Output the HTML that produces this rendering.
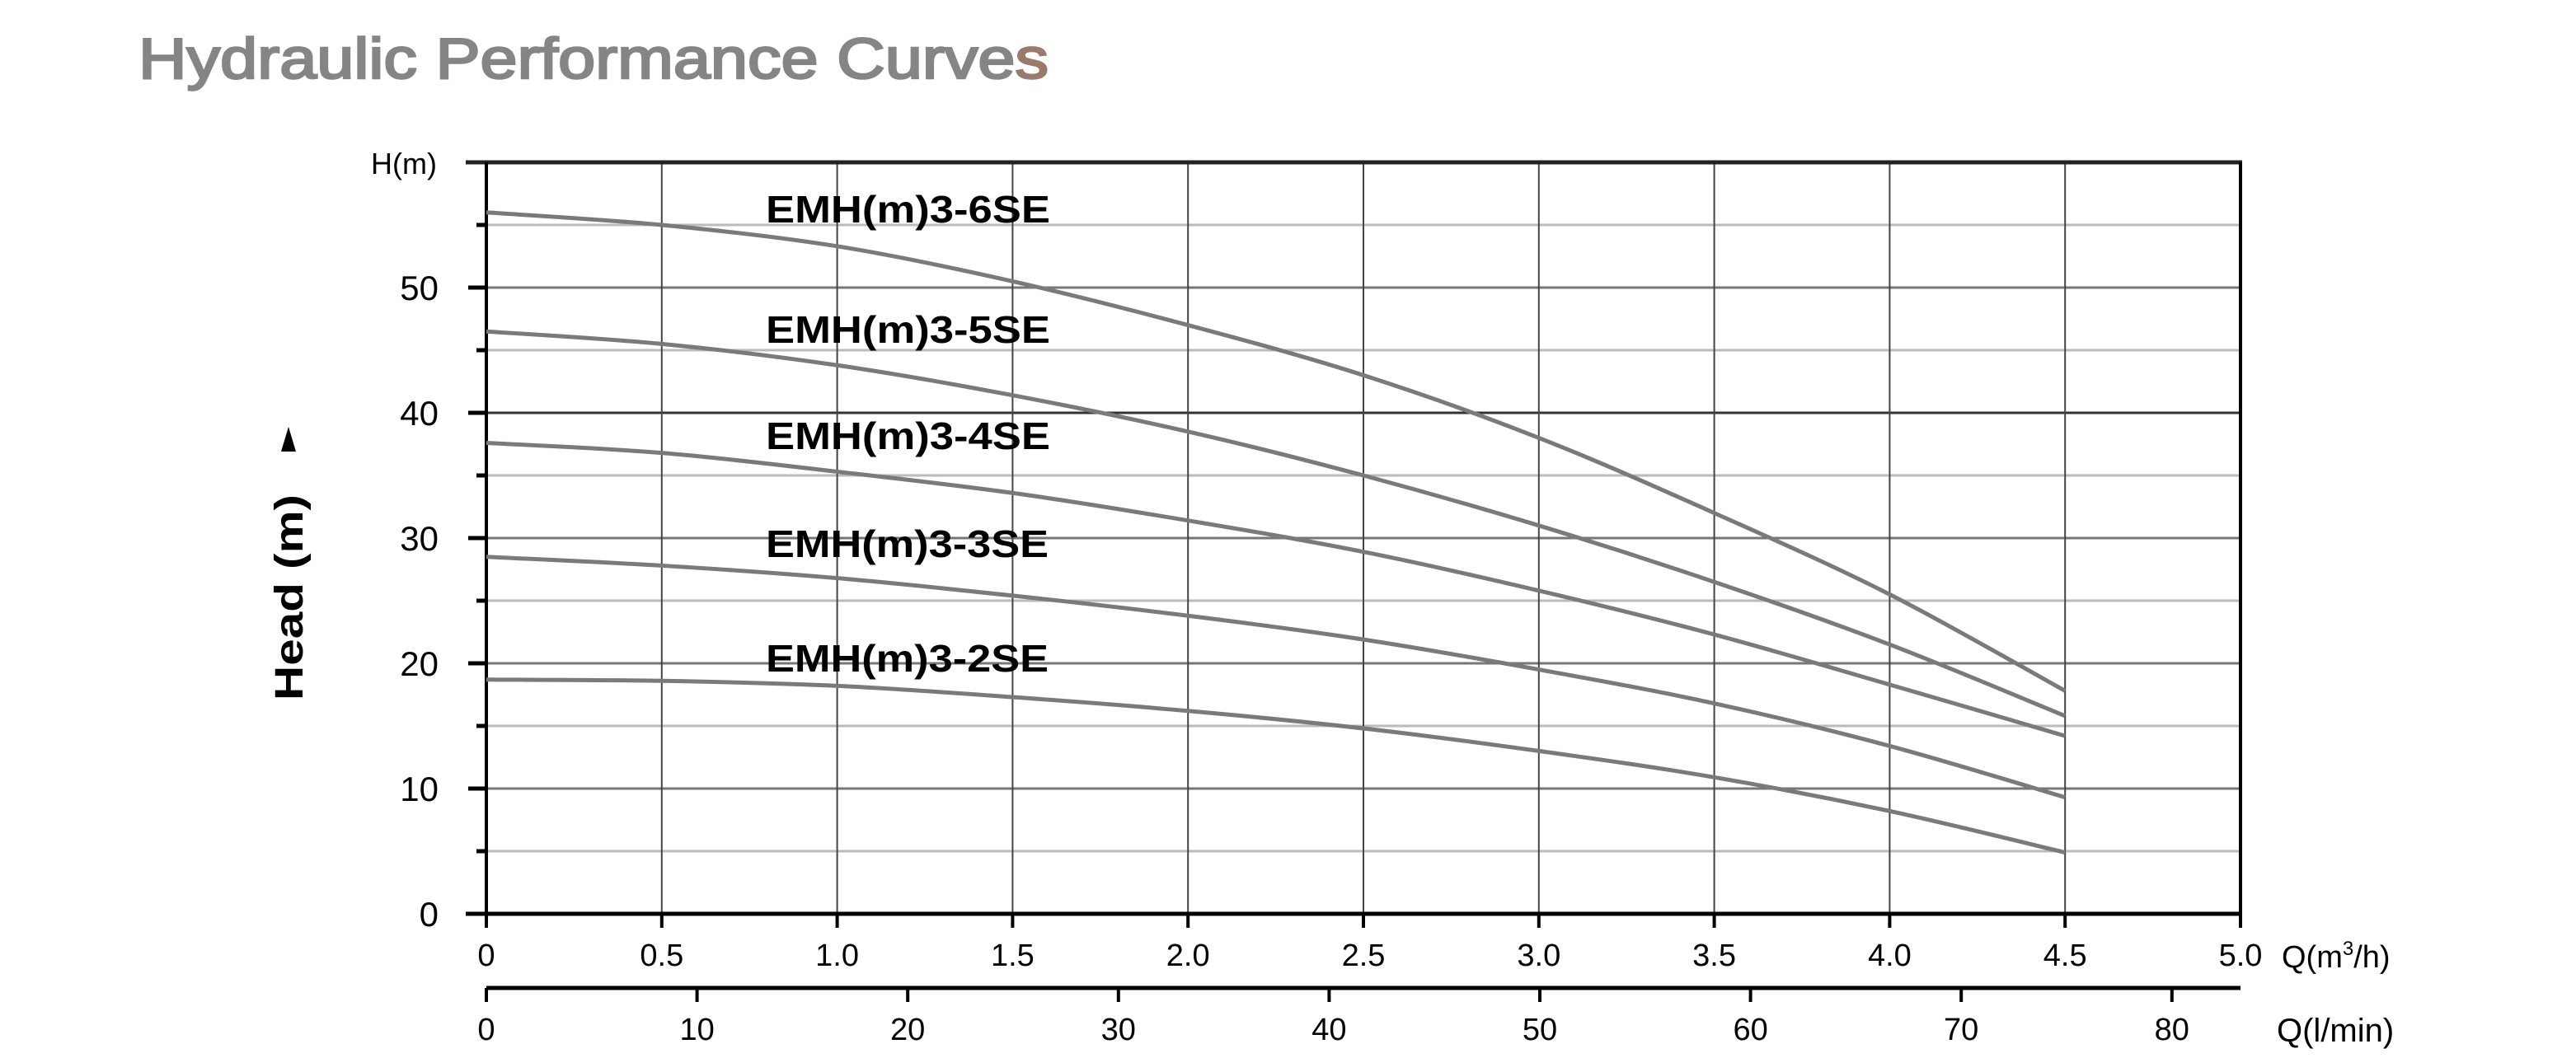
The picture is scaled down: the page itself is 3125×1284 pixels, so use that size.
<!DOCTYPE html>
<html><head><meta charset="utf-8"><style>
html,body{margin:0;padding:0;background:#fff;}
svg{display:block;}
</style></head><body>
<svg id="s" width="3125" height="1284" viewBox="0 0 3125 1284" xmlns="http://www.w3.org/2000/svg" font-family="Liberation Sans, sans-serif">
<rect width="3125" height="1284" fill="#fff"/>
<text x="168" y="95" font-size="70" fill="#858585" stroke="#858585" stroke-width="2.5" textLength="1104" lengthAdjust="spacingAndGlyphs">Hydraulic Performance Curve<tspan fill="#9a7a6a" stroke="#9a7a6a">s</tspan></text>
<g id="grid"></g>
<g id="curves" fill="none" stroke="#7a7a7a" stroke-width="5"></g>
<g font-size="46" font-weight="bold" fill="#000">
<text x="929" y="270" textLength="345" lengthAdjust="spacingAndGlyphs">EMH(m)3-6SE</text>
<text x="929" y="416" textLength="345" lengthAdjust="spacingAndGlyphs">EMH(m)3-5SE</text>
<text x="929" y="545" textLength="345" lengthAdjust="spacingAndGlyphs">EMH(m)3-4SE</text>
<text x="929" y="676" textLength="343" lengthAdjust="spacingAndGlyphs">EMH(m)3-3SE</text>
<text x="929" y="815" textLength="343" lengthAdjust="spacingAndGlyphs">EMH(m)3-2SE</text>
</g>
<text x="0" y="0" font-size="48" font-weight="bold" fill="#000" transform="translate(367,850) rotate(-90)" textLength="250" lengthAdjust="spacingAndGlyphs">Head (m)</text>
<polygon points="350,518 341,548 359,548" fill="#000"/>
<text x="530" y="211" font-size="36" text-anchor="end" fill="#000">H(m)</text>
<text x="2768" y="1174" font-size="38" fill="#000">Q(m<tspan font-size="24" dy="-15">3</tspan><tspan dy="15">/h)</tspan></text>
<text x="2762" y="1264" font-size="40" fill="#000">Q(l/min)</text>
</svg>
<script>
var NS="http://www.w3.org/2000/svg";
var g=document.getElementById('grid');
function el(t,a,p){var e=document.createElementNS(NS,t);for(var k in a)e.setAttribute(k,a[k]);(p||g).appendChild(e);return e;}
var X0=590,XS=425.6,Y0=1109,YS=15.2;
function X(q){return X0+q*XS;} function Y(h){return Y0-h*YS;}
for(var h=5;h<60;h+=5){var maj=h%10==0;
 el('line',{x1:X0,x2:2718,y1:Y(h),y2:Y(h),stroke:maj?(h==40?'#333':'#777'):'#bbb','stroke-width':3});
 el('line',{x1:maj?568:578,x2:X0,y1:Y(h),y2:Y(h),stroke:'#000','stroke-width':5});
 if(maj){var t=el('text',{x:532,y:Y(h)+15,'font-size':42,'text-anchor':'end',fill:'#000'});t.textContent=h;}
}
var t0=el('text',{x:532,y:Y(0)+15,'font-size':42,'text-anchor':'end',fill:'#000'});t0.textContent='0';
for(var i=1;i<10;i++){el('line',{x1:X(i*0.5),x2:X(i*0.5),y1:Y(60),y2:Y0,stroke:'#444','stroke-width':2});}
el('line',{x1:565,x2:2720,y1:Y(60),y2:Y(60),stroke:'#222','stroke-width':5});
el('line',{x1:X0,x2:X0,y1:Y(60),y2:1126,stroke:'#000','stroke-width':4});
el('line',{x1:2718,x2:2718,y1:Y(60),y2:1126,stroke:'#000','stroke-width':4});
el('line',{x1:565,x2:2720,y1:Y0,y2:Y0,stroke:'#000','stroke-width':5});
for(var i=0;i<=10;i++){var q=i*0.5;
 el('line',{x1:X(q),x2:X(q),y1:Y0,y2:1126,stroke:'#000','stroke-width':4});
 var t=el('text',{x:X(q),y:1172,'font-size':38,'text-anchor':'middle',fill:'#000'});t.textContent=(i==0?'0':q.toFixed(1));
}
el('line',{x1:X0,x2:2718,y1:1199,y2:1199,stroke:'#000','stroke-width':5});
for(var l=0;l<=80;l+=10){var x=X0+l*25.56;
 el('line',{x1:x,x2:x,y1:1199,y2:1216,stroke:'#000','stroke-width':4});
 var t=el('text',{x:x,y:1262,'font-size':38,'text-anchor':'middle',fill:'#000'});t.textContent=l;}
var D=[[56,55,53.3,50.5,47,43,38,32,25.5,17.8],[46.5,45.5,43.8,41.4,38.5,35,31,26.5,21.5,15.8],[37.6,36.8,35.3,33.6,31.4,28.9,25.8,22.3,18.3,14.2],[28.5,27.8,26.8,25.4,23.8,21.9,19.5,16.8,13.4,9.3],[18.7,18.6,18.2,17.3,16.2,14.8,13,10.9,8.2,4.9]];
var cg=document.getElementById('curves');
D.forEach(function(d){var P=d.map(function(h,i){return [X(i*0.5),Y(h)];});
 var s='M'+P[0][0]+','+P[0][1];
 for(var i=0;i<P.length-1;i++){var p0=P[Math.max(i-1,0)],p1=P[i],p2=P[i+1],p3=P[Math.min(i+2,P.length-1)];
  s+=' C'+(p1[0]+(p2[0]-p0[0])/6)+','+(p1[1]+(p2[1]-p0[1])/6)+' '+(p2[0]-(p3[0]-p1[0])/6)+','+(p2[1]-(p3[1]-p1[1])/6)+' '+p2[0]+','+p2[1];}
 el('path',{d:s},cg);});
</script>
</body></html>
